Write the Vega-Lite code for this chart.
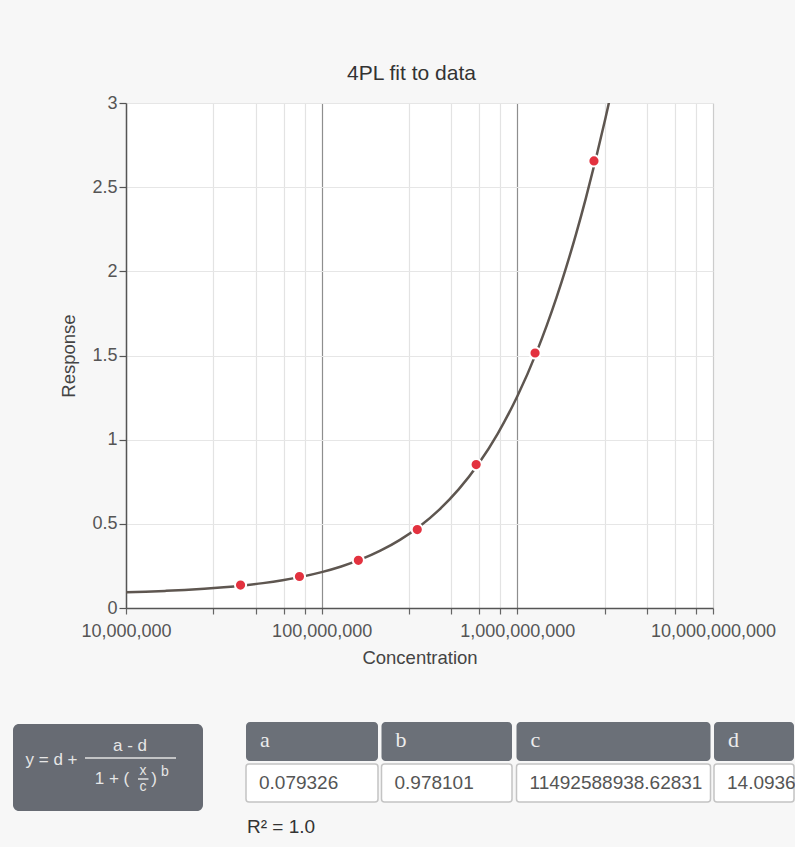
{
  "$schema": "https://vega.github.io/schema/vega-lite/v6.json",
  "background": "#f7f7f7",
  "padding": {"left": 13, "top": 63, "right": 0, "bottom": 5},
  "config": {"font": "Liberation Sans", "view": {"stroke": null}},
  "spacing": 45,
  "datasets": {
    "curve": [
      {"concentration": 10000000, "response": 0.0935},
      {"concentration": 12589254, "response": 0.0971},
      {"concentration": 15848932, "response": 0.1016},
      {"concentration": 19952623, "response": 0.1072},
      {"concentration": 25118864, "response": 0.1143},
      {"concentration": 31622777, "response": 0.1231},
      {"concentration": 39810717, "response": 0.1341},
      {"concentration": 50118723, "response": 0.1478},
      {"concentration": 63095734, "response": 0.1650},
      {"concentration": 79432823, "response": 0.1865},
      {"concentration": 100000000, "response": 0.2133},
      {"concentration": 125892541, "response": 0.2468},
      {"concentration": 158489319, "response": 0.2884},
      {"concentration": 199526231, "response": 0.3403},
      {"concentration": 251188643, "response": 0.4047},
      {"concentration": 316227766, "response": 0.4845},
      {"concentration": 398107171, "response": 0.5831},
      {"concentration": 501187234, "response": 0.7047},
      {"concentration": 630957344, "response": 0.8540},
      {"concentration": 794328235, "response": 1.0363},
      {"concentration": 1000000000, "response": 1.2576},
      {"concentration": 1258925412, "response": 1.5246},
      {"concentration": 1412537545, "response": 1.6773},
      {"concentration": 1584893192, "response": 1.8435},
      {"concentration": 1778279410, "response": 2.0249},
      {"concentration": 1995262315, "response": 2.2214},
      {"concentration": 2238721139, "response": 2.4338},
      {"concentration": 2511886432, "response": 2.6627},
      {"concentration": 2818382931, "response": 2.9084},
      {"concentration": 2951209227, "response": 3.0115}
    ],
    "points": [
      {"concentration": 38500000, "response": 0.136},
      {"concentration": 77000000, "response": 0.187},
      {"concentration": 154000000, "response": 0.283},
      {"concentration": 308000000, "response": 0.466},
      {"concentration": 616000000, "response": 0.852},
      {"concentration": 1232000000, "response": 1.515},
      {"concentration": 2464000000, "response": 2.656}
    ],
    "params": [
      {"param": "a", "value": "0.079326", "left": 246, "right": 378},
      {"param": "b", "value": "0.978101", "left": 381.5, "right": 512},
      {"param": "c", "value": "11492588938.62831", "left": 516.5, "right": 710.5},
      {"param": "d", "value": "14.0936", "left": 714, "right": 794}
    ],
    "formulaBox": [{"left": 13, "right": 203, "top": 724, "bottom": 811}],
    "formulaMain": [
      {"text": "y = d +", "cx": 51.5, "cy": 760},
      {"text": "a - d", "cx": 130, "cy": 746},
      {"text": "1 + (", "cx": 112, "cy": 779},
      {"text": ")", "cx": 154, "cy": 779}
    ],
    "formulaSmall": [
      {"text": "x", "cx": 143, "cy": 771},
      {"text": "c", "cx": 143, "cy": 787},
      {"text": "b", "cx": 165, "cy": 772}
    ],
    "formulaBars": [
      {"left": 85, "right": 176, "cy": 758},
      {"left": 138, "right": 148.5, "cy": 779}
    ],
    "fit": [{"label": "R² = 1.0"}]
  },
  "vconcat": [
    {
      "width": 587,
      "height": 505,
      "title": {"text": "4PL fit to data", "fontSize": 21, "fontWeight": "normal", "color": "#333333", "offset": 10, "dx": -8},
      "view": {"fill": "#ffffff", "stroke": null},
      "layer": [
        {
          "data": {"name": "curve"},
          "mark": {"type": "line", "color": "#5e5650", "strokeWidth": 2.5, "interpolate": "monotone", "clip": true},
          "encoding": {
            "x": {
              "field": "concentration", "type": "quantitative", "title": "Concentration",
              "scale": {"type": "log", "domain": [10000000, 10000000000], "nice": false},
              "axis": {
                "values": [10000000, 28000000, 46000000, 64000000, 82000000, 100000000, 280000000, 460000000, 640000000, 820000000, 1000000000, 2800000000, 4600000000, 6400000000, 8200000000, 10000000000],
                "labelExpr": "(datum.value == 10000000 || datum.value == 100000000 || datum.value == 1000000000 || datum.value == 10000000000) ? format(datum.value, ',') : ''",
                "grid": true,
                "gridColor": {"condition": [{"test": "datum.value == 100000000 || datum.value == 1000000000", "value": "#8e8e8e"}, {"test": "datum.value == 10000000000", "value": "#cccccc"}], "value": "#e3e3e3"},
                "gridWidth": 1.2,
                "domainColor": "#555555", "domainWidth": 1.5,
                "tickColor": "#666666", "tickSize": 6, "tickWidth": 1.2,
                "labelFontSize": 18, "labelColor": "#555555", "labelPadding": 8,
                "labelFlush": false, "labelOverlap": false,
                "titleFontSize": 18.5, "titleFontWeight": "normal", "titleColor": "#444444", "titlePadding": 8
              }
            },
            "y": {
              "field": "response", "type": "quantitative", "title": "Response",
              "scale": {"domain": [0, 3], "nice": false},
              "axis": {
                "values": [0, 0.5, 1, 1.5, 2, 2.5, 3],
                "format": "~g",
                "grid": true, "gridColor": "#e6e6e6", "gridWidth": 1.2,
                "domainColor": "#555555", "domainWidth": 1.5,
                "tickColor": "#555555", "tickSize": 7, "tickWidth": 1.2,
                "labelFontSize": 18, "labelColor": "#555555", "labelPadding": 2,
                "titleFontSize": 18.5, "titleFontWeight": "normal", "titleColor": "#444444", "titlePadding": 13
              }
            }
          }
        },
        {
          "data": {"name": "points"},
          "mark": {"type": "circle", "fill": "#e3323f", "stroke": "#ffffff", "strokeWidth": 2, "size": 125, "opacity": 1},
          "encoding": {
            "x": {"field": "concentration", "type": "quantitative"},
            "y": {"field": "response", "type": "quantitative"}
          }
        }
      ]
    },
    {
      "width": 669,
      "height": 130,
      "view": {"stroke": null},
      "layer": [
        {
          "data": {"name": "formulaBox"},
          "mark": {"type": "rect", "fill": "#676b73", "cornerRadius": 6},
          "encoding": {
            "x": {"field": "left", "type": "quantitative", "scale": {"domain": [126, 795], "nice": false, "zero": false}, "axis": null},
            "x2": {"field": "right"},
            "y": {"field": "top", "type": "quantitative", "scale": {"domain": [712, 842], "nice": false, "zero": false, "reverse": true}, "axis": null},
            "y2": {"field": "bottom"}
          }
        },
        {
          "data": {"name": "formulaBars"},
          "mark": {"type": "rule", "color": "#e2e2e2", "strokeWidth": 1.5},
          "encoding": {
            "x": {"field": "left", "type": "quantitative"},
            "x2": {"field": "right"},
            "y": {"field": "cy", "type": "quantitative"}
          }
        },
        {
          "data": {"name": "formulaMain"},
          "mark": {"type": "text", "color": "#e6e6e6", "fontSize": 17, "align": "center", "baseline": "middle"},
          "encoding": {
            "x": {"field": "cx", "type": "quantitative"},
            "y": {"field": "cy", "type": "quantitative"},
            "text": {"field": "text"}
          }
        },
        {
          "data": {"name": "formulaSmall"},
          "mark": {"type": "text", "color": "#e6e6e6", "fontSize": 14, "align": "center", "baseline": "middle"},
          "encoding": {
            "x": {"field": "cx", "type": "quantitative"},
            "y": {"field": "cy", "type": "quantitative"},
            "text": {"field": "text"}
          }
        },
        {
          "data": {"name": "params"},
          "mark": {"type": "rect", "fill": "#6b7078", "cornerRadius": 4},
          "encoding": {
            "x": {"field": "left", "type": "quantitative"},
            "x2": {"field": "right"},
            "y": {"datum": 722, "type": "quantitative"},
            "y2": {"datum": 761}
          }
        },
        {
          "data": {"name": "params"},
          "mark": {"type": "rect", "fill": "#ffffff", "stroke": "#c4c4c4", "strokeWidth": 1.5, "cornerRadius": 3},
          "encoding": {
            "x": {"field": "left", "type": "quantitative"},
            "x2": {"field": "right"},
            "y": {"datum": 764, "type": "quantitative"},
            "y2": {"datum": 802}
          }
        },
        {
          "data": {"name": "params"},
          "mark": {"type": "text", "font": "Liberation Serif", "fontSize": 22, "color": "#ececec", "align": "left", "baseline": "middle", "dx": 14},
          "encoding": {
            "x": {"field": "left", "type": "quantitative"},
            "y": {"datum": 740, "type": "quantitative"},
            "text": {"field": "param"}
          }
        },
        {
          "data": {"name": "params"},
          "mark": {"type": "text", "fontSize": 19, "color": "#555555", "align": "left", "baseline": "middle", "dx": 13},
          "encoding": {
            "x": {"field": "left", "type": "quantitative"},
            "y": {"datum": 783, "type": "quantitative"},
            "text": {"field": "value"}
          }
        },
        {
          "data": {"name": "fit"},
          "mark": {"type": "text", "fontSize": 19, "color": "#333333", "align": "left", "baseline": "middle"},
          "encoding": {
            "x": {"datum": 247, "type": "quantitative"},
            "y": {"datum": 827, "type": "quantitative"},
            "text": {"field": "label"}
          }
        }
      ]
    }
  ]
}
